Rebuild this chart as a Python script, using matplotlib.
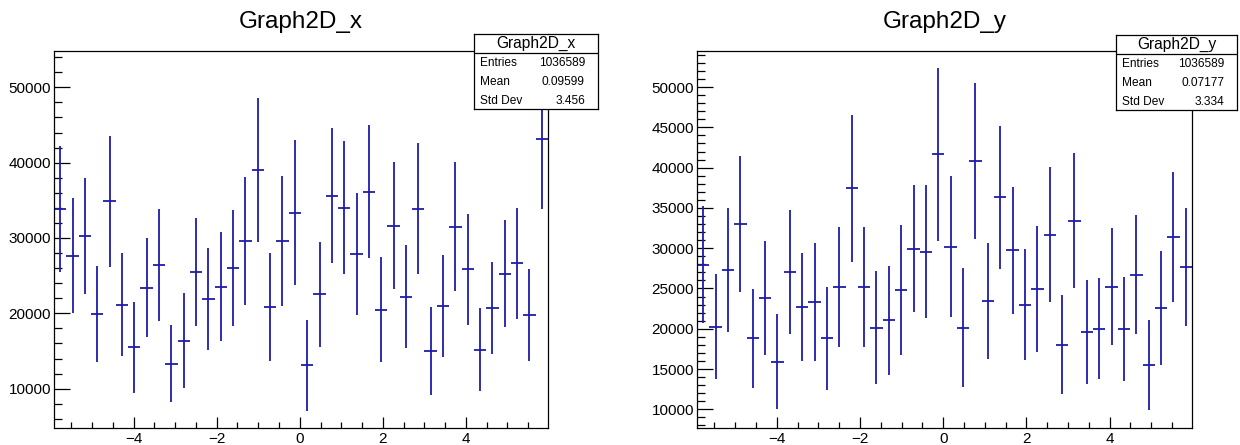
import numpy as np
import matplotlib
matplotlib.use("Agg")
import matplotlib.pyplot as plt
from matplotlib.ticker import MultipleLocator

plt.rcParams['font.family'] = ['Liberation Sans', 'DejaVu Sans']

# Binning (40 bins)
x_lo, x_hi, n_bins = -5.92, 5.98, 40

# Graph2D_x: bin contents and errors
vals_x = [33850, 27655, 30265, 19912, 34867, 21150, 15487, 23407, 26460, 13319,
          16372, 25442, 21858, 23540, 25973, 29602, 39027, 20841, 29602, 33363,
          13097, 22522, 35619, 34027, 27832, 36106, 20487, 31637, 22212, 33894,
          15000, 21018, 31460, 25841, 15177, 20708, 25265, 26637, 19779, 43186]
errs_x = [8341, 7633, 7721, 6416, 8673, 6836, 5996, 6571, 7434, 5133,
          6261, 7168, 6770, 7212, 7677, 8518, 9513, 7190, 8584, 9602,
          6040, 6925, 9004, 8850, 8075, 8827, 6991, 8385, 6836, 8739,
          5819, 6770, 8562, 7367, 5531, 6062, 7102, 7367, 6084, 9381]

# Graph2D_y: bin contents and errors
vals_y = [27971, 20269, 27350, 32981, 18820, 23830, 15921, 27019, 22712, 23333,
          18820, 25238, 37453, 25238, 20145, 21056, 24783, 29917, 29586, 41636,
          30207, 20145, 40849, 23499, 36335, 29752, 23002, 24948, 31698, 18033,
          33437, 19607, 19979, 25238, 19979, 26729, 15466, 22547, 31366, 27681]
errs_y = [7288, 6563, 7702, 8427, 6170, 7060, 5880, 7681, 6749, 7308,
          6398, 7453, 9110, 7453, 6977, 6791, 8075, 7867, 8261, 10725,
          8799, 7371, 9710, 7205, 8882, 7867, 6894, 7785, 8427, 6170,
          8323, 6418, 6273, 7226, 6501, 7391, 5611, 7060, 8095, 7308]

stats_x = {'name': 'Graph2D_x', 'Entries': '1036589', 'Mean': '0.09599', 'Std Dev': '3.456'}
stats_y = {'name': 'Graph2D_y', 'Entries': '1036589', 'Mean': '0.07177', 'Std Dev': '3.334'}

edges = np.linspace(x_lo, x_hi, n_bins + 1)
centers = 0.5 * (edges[:-1] + edges[1:])
half_w = 0.5 * (edges[1] - edges[0])

W, H = 1240, 445
fig = plt.figure(figsize=(12.4, 4.45), dpi=100)
color = '#1c1caa'


def panel(rect, vals, errs, ylim, ymajor, yminor, stats, box):
    ax = fig.add_axes(rect)
    ax.errorbar(centers, vals, xerr=half_w, yerr=errs, fmt='none',
                ecolor=color, elinewidth=1.3, capsize=0)
    ax.set_xlim(x_lo, x_hi)
    ax.set_ylim(*ylim)
    ax.xaxis.set_major_locator(MultipleLocator(2))
    ax.xaxis.set_minor_locator(MultipleLocator(0.5))
    ax.yaxis.set_major_locator(MultipleLocator(ymajor))
    ax.yaxis.set_minor_locator(MultipleLocator(yminor))
    ax.tick_params(axis='both', which='both', direction='in', top=False, right=False,
                   labelsize=11, width=0.9)
    ax.tick_params(axis='y', which='major', length=11.5, pad=2)
    ax.tick_params(axis='y', which='minor', length=5.8)
    ax.tick_params(axis='x', which='major', length=8, pad=3)
    ax.tick_params(axis='x', which='minor', length=4.3)
    for s in ax.spines.values():
        s.set_linewidth(0.9)
    ax.set_title(stats['name'], fontsize=17.5, pad=16.5)

    # stats box
    bx0, by0, bx1, by1 = box
    sb = fig.add_axes([bx0 / W, 1 - by1 / H, (bx1 - bx0) / W, (by1 - by0) / H])
    sb.set_xticks([])
    sb.set_yticks([])
    sb.set_xlim(0, 1)
    sb.set_ylim(0, 1)
    sb.set_facecolor('white')
    for s in sb.spines.values():
        s.set_linewidth(0.9)
    sb.axhline(0.745, color='black', lw=0.9)
    sb.text(0.5, 0.87, stats['name'], ha='center', va='center', fontsize=11.2)
    for yy, key in zip([0.61, 0.36, 0.11], ['Entries', 'Mean', 'Std Dev']):
        sb.text(0.05, yy, key, ha='left', va='center', fontsize=8.6)
        sb.text(0.895, yy, stats[key], ha='right', va='center', fontsize=8.6)
    return ax


panel([54 / W, 1 - 428 / H, 494 / W, 377 / H], vals_x, errs_x,
      (4780, 54820), 10000, 2000, stats_x, (474, 34, 598, 109))
panel([697 / W, 1 - 428 / H, 495 / W, 377 / H], vals_y, errs_y,
      (7680, 54480), 5000, 1000, stats_y, (1116, 35, 1237, 110))

fig.savefig('out.png', dpi=100)
